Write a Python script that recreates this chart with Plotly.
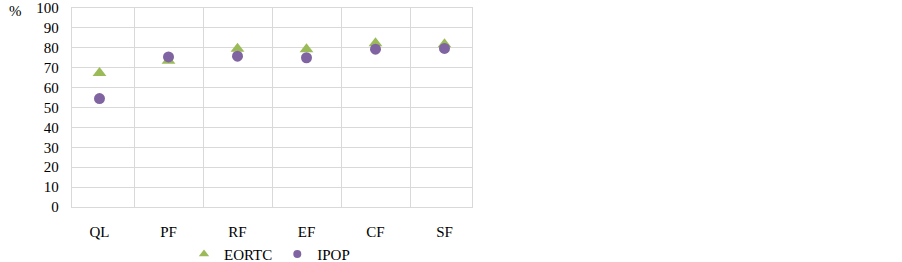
import plotly.graph_objects as go

categories = ["QL", "PF", "RF", "EF", "CF", "SF"]
eortc = [67.3, 73.5, 79.5, 79.3, 82.3, 81.8]
ipop = [54.5, 75.4, 75.8, 75.0, 79.3, 79.7]
y_ticks = list(range(0, 101, 10))

font_family = "Liberation Serif, Times New Roman, serif"
green = "#9BBB59"
purple = "#8064A2"

fig = go.Figure()
fig.add_trace(go.Scatter(
    x=categories, y=eortc, name="EORTC", mode="markers", showlegend=False,
    marker=dict(symbol="triangle-up", size=12, color=green),
))
fig.add_trace(go.Scatter(
    x=categories, y=ipop, name="IPOP", mode="markers", showlegend=False,
    marker=dict(symbol="circle", size=11, color=purple),
))
# legend-only entries with smaller symbols
fig.add_trace(go.Scatter(
    x=[None], y=[None], name="EORTC", mode="markers",
    marker=dict(symbol="triangle-up", size=9, color=green),
))
fig.add_trace(go.Scatter(
    x=[None], y=[None], name="IPOP", mode="markers",
    marker=dict(symbol="circle", size=8, color=purple),
))

fig.update_layout(
    width=902, height=262,
    margin=dict(l=72, r=430, t=8, b=55, autoexpand=False),
    plot_bgcolor="white", paper_bgcolor="white",
    font=dict(family=font_family, size=15, color="#000000"),
    showlegend=True,
    legend=dict(
        orientation="h", x=0.28, xanchor="left",
        yref="container", y=0.03, yanchor="middle",
        font=dict(size=15), itemwidth=30, tracegroupgap=0,
        bgcolor="rgba(0,0,0,0)",
    ),
    annotations=[dict(
        text="%", xref="paper", yref="paper", x=-0.1425, y=0.985,
        xanchor="center", yanchor="middle", showarrow=False,
        font=dict(size=15),
    )],
)

fig.update_xaxes(
    type="category", categoryorder="array", categoryarray=categories,
    tickson="boundaries", showgrid=True, gridcolor="#D9D9D9", gridwidth=1.3,
    showline=True, linecolor="#D9D9D9", linewidth=1.3, mirror=True,
    ticks="", ticklabelstandoff=11, zeroline=False,
)
fig.update_yaxes(
    range=[0, 100], tickvals=y_ticks, showgrid=True, gridcolor="#D9D9D9",
    gridwidth=1.3, showline=True, linecolor="#D9D9D9", linewidth=1.3, mirror=True,
    ticks="", ticklabelstandoff=9, zeroline=False,
)

fig.write_html(
    "out.html",
    config={"displayModeBar": False},
    post_script="document.body.style.margin='0';",
)
